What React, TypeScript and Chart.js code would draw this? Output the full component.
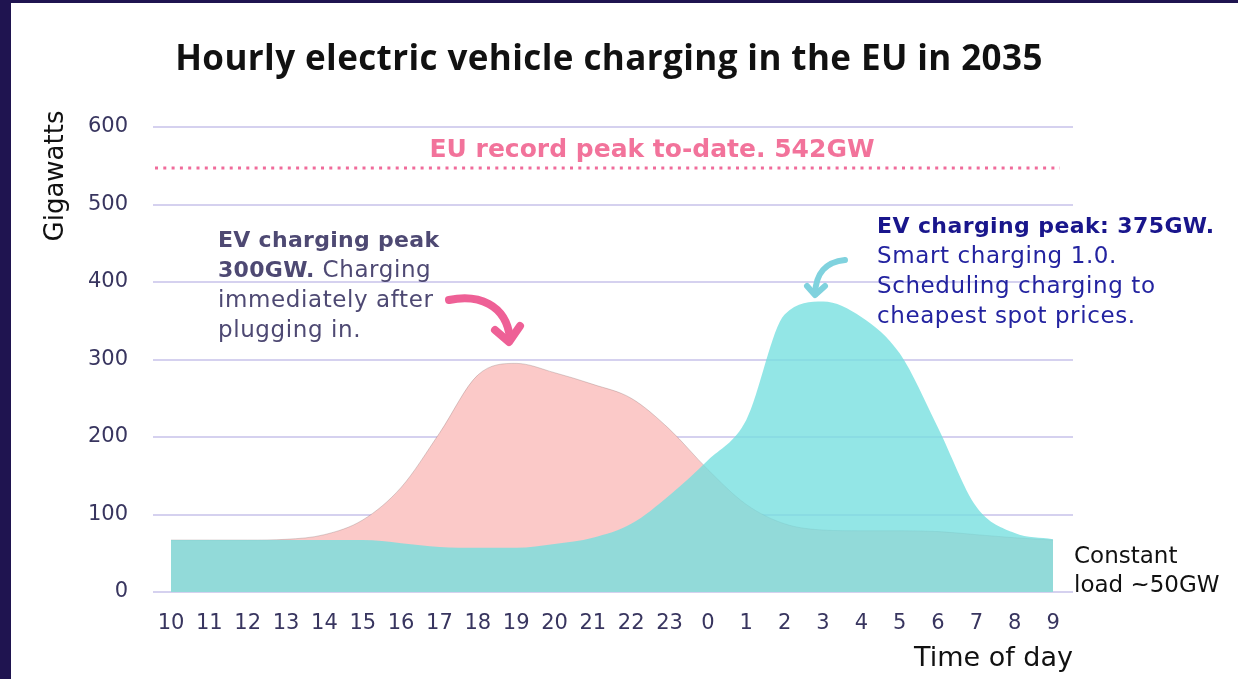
import React, { useEffect, useRef } from "react";
import { Chart, registerables } from "chart.js";

Chart.register(...registerables);

// ---- data ----
const HOURS = ["10","11","12","13","14","15","16","17","18","19","20","21","22","23","0","1","2","3","4","5","6","7","8","9"];
// Charging immediately after plugging in (GW)
const UNCONTROLLED = [67, 67, 67, 68, 74, 93, 135, 205, 280, 295, 283, 268, 250, 210, 158, 113, 88, 80, 79, 79, 78, 74, 70, 67];
// Smart charging 1.0 (GW)
const SMART = [67, 67, 67, 67, 67, 67, 63, 58, 57, 57, 62, 70, 88, 125, 170, 222, 358, 375, 355, 308, 212, 110, 76, 68];
const Y_TICKS = [0, 100, 200, 300, 400, 500, 600];
const RECORD_PEAK_LINE = 547;
const RECORD_LABEL = "EU record peak to-date. 542GW";

const DJ = '"DejaVu Sans", sans-serif';

const annotations = {
  id: "annotations",
  afterDatasetsDraw(chart: any) {
    const ctx = chart.ctx as CanvasRenderingContext2D;
    const y = chart.scales.y;
    ctx.save();
    const py = y.getPixelForValue(RECORD_PEAK_LINE);
    ctx.strokeStyle = "rgb(240,108,155)";
    ctx.lineWidth = 3;
    ctx.setLineDash([3, 5.3]);
    ctx.beginPath();
    ctx.moveTo(155, py);
    ctx.lineTo(1060, py);
    ctx.stroke();
    ctx.setLineDash([]);
    ctx.restore();
  },
  afterDraw(chart: any) {
    const ctx = chart.ctx as any;
    ctx.save();
    ctx.textBaseline = "alphabetic";

    // title
    ctx.fillStyle = "#111";
    ctx.font = 'bold 35px "Open Sans", sans-serif';
    ctx.letterSpacing = "0.4px";
    ctx.textAlign = "center";
    ctx.fillText("Hourly electric vehicle charging in the EU in 2035", 609, 70);
    ctx.letterSpacing = "0px";

    // record label
    ctx.fillStyle = "rgb(242,115,155)";
    ctx.font = `bold 25px ${DJ}`;
    ctx.fillText(RECORD_LABEL, 652, 157);

    // y axis title
    ctx.save();
    ctx.translate(63, 176);
    ctx.rotate(-Math.PI / 2);
    ctx.fillStyle = "#111";
    ctx.font = `26px ${DJ}`;
    ctx.textAlign = "center";
    ctx.fillText("Gigawatts", 0, 0);
    ctx.restore();

    // x axis title
    ctx.textAlign = "right";
    ctx.fillStyle = "#111";
    ctx.font = `27px ${DJ}`;
    ctx.fillText("Time of day", 1073, 666);

    // constant load note
    ctx.textAlign = "left";
    ctx.font = `23px ${DJ}`;
    ctx.fillText("Constant", 1074, 563);
    ctx.fillText("load ~50GW", 1074, 592);

    // left annotation
    ctx.fillStyle = "rgb(78,73,115)";
    ctx.font = `bold 22px ${DJ}`;
    ctx.letterSpacing = "0.3px";
    ctx.fillText("EV charging peak", 218, 247);
    const b2 = "300GW.";
    ctx.fillText(b2, 218, 277);
    const w2 = ctx.measureText(b2 + " ").width;
    ctx.font = `23px ${DJ}`;
    ctx.letterSpacing = "0.6px";
    ctx.fillText("Charging", 218 + w2, 277);
    ctx.fillText("immediately after", 218, 307);
    ctx.fillText("plugging in.", 218, 337);

    // right annotation
    ctx.fillStyle = "rgb(25,22,140)";
    ctx.font = `bold 22px ${DJ}`;
    ctx.letterSpacing = "0.4px";
    ctx.fillText("EV charging peak: 375GW.", 877, 233);
    ctx.fillStyle = "rgb(35,35,160)";
    ctx.font = `23px ${DJ}`;
    ctx.letterSpacing = "0.6px";
    ctx.fillText("Smart charging 1.0.", 877, 263);
    ctx.fillText("Scheduling charging to", 877, 293);
    ctx.fillText("cheapest spot prices.", 877, 323);
    ctx.letterSpacing = "0px";

    // pink arrow
    ctx.lineCap = "round";
    ctx.lineJoin = "round";
    ctx.strokeStyle = "rgb(238,96,150)";
    ctx.lineWidth = 8;
    ctx.beginPath();
    ctx.moveTo(449, 300);
    ctx.bezierCurveTo(478, 294, 506, 304, 510, 338);
    ctx.stroke();
    ctx.beginPath();
    ctx.moveTo(495, 330);
    ctx.lineTo(509, 342);
    ctx.lineTo(520, 326);
    ctx.stroke();

    // cyan arrow
    ctx.strokeStyle = "rgb(128,210,222)";
    ctx.lineWidth = 6;
    ctx.beginPath();
    ctx.moveTo(845, 260);
    ctx.bezierCurveTo(826, 262, 816, 272, 815, 294);
    ctx.stroke();
    ctx.beginPath();
    ctx.moveTo(807, 286);
    ctx.lineTo(815, 295);
    ctx.lineTo(825, 286);
    ctx.stroke();

    ctx.restore();
  },
};

export default function App() {
  const ref = useRef<HTMLCanvasElement | null>(null);
  useEffect(() => {
    if (!ref.current) return;
    const toPts = (arr: number[]) => arr.map((v, i) => ({ x: i, y: v }));
    const chart = new Chart(ref.current, {
      type: "line",
      data: {
        datasets: [
          {
            label: "Smart charging",
            data: toPts(SMART),
            backgroundColor: "rgba(115,222,222,0.77)",
            borderWidth: 0,
            pointRadius: 0,
            fill: "origin",
            cubicInterpolationMode: "monotone",
          },
          {
            label: "Uncontrolled charging",
            data: toPts(UNCONTROLLED),
            backgroundColor: "rgb(251,201,200)",
            borderColor: "rgba(120,90,90,0.35)",
            borderWidth: 0.8,
            pointRadius: 0,
            fill: "origin",
            cubicInterpolationMode: "monotone",
          },
        ],
      },
      options: {
        responsive: false,
        animation: false,
        devicePixelRatio: 1,
        layout: { padding: { top: 127, right: 165, left: 0, bottom: 0 } },
        plugins: { legend: { display: false }, tooltip: { enabled: false }, title: { display: false } },
        scales: {
          x: {
            type: "linear",
            min: -0.47,
            max: 23.52,
            afterFit: (s: any) => { s.height = 87; },
            afterBuildTicks: (s: any) => { s.ticks = HOURS.map((_, i) => ({ value: i })); },
            ticks: {
              autoSkip: false,
              maxRotation: 0,
              padding: 19,
              color: "#38355f",
              font: { family: "DejaVu Sans", size: 21 },
              callback: (v: any) => HOURS[v as number] ?? "",
            },
            grid: { display: false, drawTicks: false },
            border: { display: false },
          },
          y: {
            min: 0,
            max: 600,
            z: 1,
            afterFit: (s: any) => { s.width = 153; },
            afterBuildTicks: (s: any) => { s.ticks = Y_TICKS.map((v) => ({ value: v })); },
            ticks: {
              padding: 25,
              color: "#38355f",
              font: { family: "DejaVu Sans", size: 21 },
            },
            grid: { color: "rgba(150,140,215,0.4)", lineWidth: 2, drawTicks: false },
            border: { display: false },
          },
        },
      },
      plugins: [annotations],
    });
    return () => chart.destroy();
  }, []);

  return (
    <div style={{ position: "fixed", left: 0, top: 0, width: 1238, height: 679, background: "#fff", overflow: "hidden" }}>
      <canvas ref={ref} width={1238} height={679} style={{ position: "absolute", left: 0, top: 0 }} />
      <div style={{ position: "absolute", left: 0, top: 0, width: 11, height: 679, background: "#1f1450" }} />
      <div style={{ position: "absolute", left: 0, top: 0, width: 1238, height: 3, background: "#1f1450" }} />
    </div>
  );
}
